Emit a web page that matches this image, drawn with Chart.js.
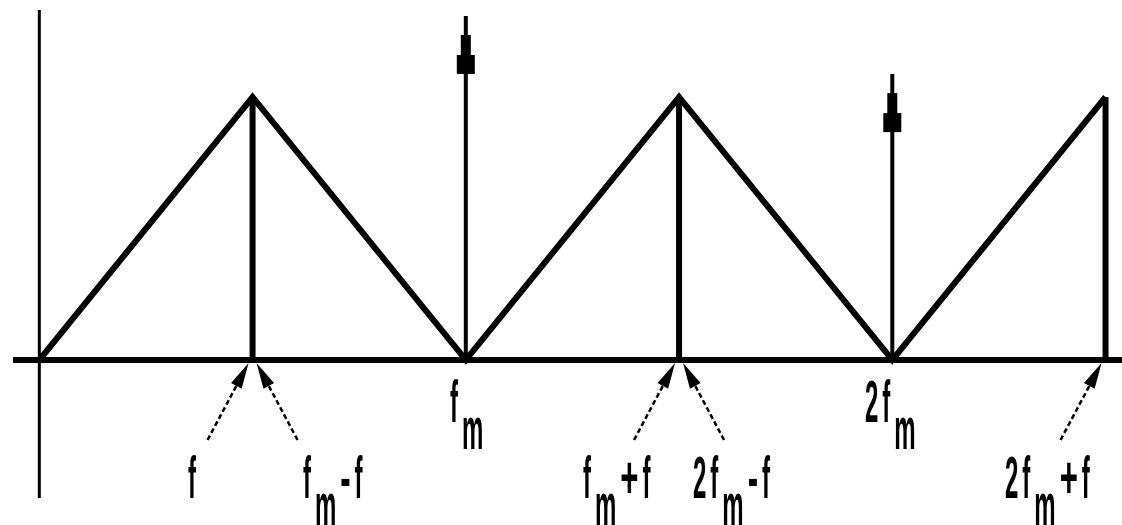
<!DOCTYPE html>
<html>
<head>
<meta charset="utf-8">
<script src="https://cdn.jsdelivr.net/npm/chart.js@4/dist/chart.umd.min.js"></script>
<style>
html,body{margin:0;padding:0;background:#fff;}
#c{display:block;}
</style>
</head>
<body>
<canvas id="c" width="1122" height="525"></canvas>
<script>
// ---- data (frequency in units of f_m, amplitude relative to triangle peak) ----
const triX = [0, 0.5, 1, 1.5, 2, 2.5];
const triY = [0, 1, 0, 1, 0, 1];
const stemX = [0.5, 1.5, 2.5];
const stemY = [1, 1, 1];
const impulseX = [1, 2];
const impulseY = [1.308, 1.087];
const baseX = [-0.0617, 2.5386];
const vAxisY = [-0.525, 1.331];
const labelText = ["f", "f_m-f", "f_m", "f_m+f", "2f_m-f", "2f_m", "2f_m+f"];
const labelX = [0.3487, 0.618, 0.963, 1.2748, 1.5326, 1.936, 2.2642];
const labelY = [-0.525, -0.525, -0.236, -0.525, -0.525, -0.236, -0.525];
const pointerX = [0.5, 0.5, 1.5, 1.5, 2.5];
const pointerSide = [-1, 1, -1, 1, -1];

const xMin = -0.0922, xMax = 2.5386, yMin = -0.6274, yMax = 1.3688;

const line = (pts, w) => ({
  data: pts, showLine: true, borderColor: '#000', backgroundColor: '#000',
  borderWidth: w, pointRadius: 0, tension: 0, clip: false,
  borderJoinStyle: 'miter', borderCapStyle: 'butt'
});

const datasets = [];
datasets.push(line(baseX.map(x => ({x, y: 0})), 6));
datasets.push(line(vAxisY.map(y => ({x: 0, y})), 3));
datasets.push(line(triX.map((x, i) => ({x, y: triY[i]})), 6));
stemX.forEach((x, i) => datasets.push(line([{x, y: 0}, {x, y: stemY[i]}], 6)));
impulseX.forEach((x, i) => datasets.push(line([{x, y: 0}, {x, y: impulseY[i]}], 4)));

const annot = {
  id: 'annot',
  afterDatasetsDraw(chart) {
    const ctx = chart.ctx, xs = chart.scales.x, ys = chart.scales.y;
    ctx.save();
    ctx.fillStyle = '#000';
    ctx.strokeStyle = '#000';
    // impulse arrowheads (stepped)
    impulseX.forEach((v, i) => {
      const px = xs.getPixelForValue(v), top = ys.getPixelForValue(impulseY[i]);
      ctx.fillRect(px - 5, top + 19, 10, 21);
      ctx.fillRect(px - 9, top + 39, 18, 19);
    });
    // pointer arrows under the axis
    const y0 = ys.getPixelForValue(0);
    pointerX.forEach((v, i) => {
      const px = xs.getPixelForValue(v), s = pointerSide[i];
      const tipX = px + s * 4, tipY = y0 + 3;
      const tailX = px + s * 45, tailY = y0 + 80;
      const dx = tipX - tailX, dy = tipY - tailY, len = Math.hypot(dx, dy);
      const ux = dx / len, uy = dy / len;
      ctx.setLineDash([5, 3]);
      ctx.lineWidth = 2.5;
      ctx.beginPath();
      ctx.moveTo(tailX, tailY);
      ctx.lineTo(tipX - ux * 18, tipY - uy * 18);
      ctx.stroke();
      ctx.setLineDash([]);
      const hl = 26, hw = 6;
      const bx = tipX - ux * hl, by = tipY - uy * hl;
      ctx.beginPath();
      ctx.moveTo(tipX, tipY);
      ctx.lineTo(bx - uy * hw, by + ux * hw);
      ctx.lineTo(bx + uy * hw, by - ux * hw);
      ctx.closePath();
      ctx.fill();
    });
    // labels
    const SX = 0.4, GAP = 4;
    ctx.font = 'bold 60px "Liberation Sans", Arial, sans-serif';
    ctx.textBaseline = 'alphabetic';
    ctx.textAlign = 'left';
    labelText.forEach((t, i) => {
      let px = xs.getPixelForValue(labelX[i]);
      const py = ys.getPixelForValue(labelY[i]);
      let sub = false;
      for (const ch of t) {
        if (ch === '_') { sub = true; continue; }
        const big = (ch === '-' || ch === '+');
        const sx = big ? SX * 1.3 : SX;
        const w = ctx.measureText(ch).width * sx;
        ctx.save();
        ctx.translate(px, py + (sub ? 27 : 0));
        ctx.scale(sx, 1);
        ctx.fillText(ch, 0, 0);
        ctx.restore();
        px += w + GAP;
        sub = false;
      }
    });
    ctx.restore();
  }
};

new Chart(document.getElementById('c'), {
  type: 'scatter',
  data: { datasets },
  options: {
    responsive: false,
    animation: false,
    devicePixelRatio: 1,
    layout: { padding: 0 },
    plugins: { legend: { display: false }, tooltip: { enabled: false } },
    scales: {
      x: { type: 'linear', min: xMin, max: xMax, display: false },
      y: { type: 'linear', min: yMin, max: yMax, display: false }
    }
  },
  plugins: [annot]
});
</script>
</body>
</html>
